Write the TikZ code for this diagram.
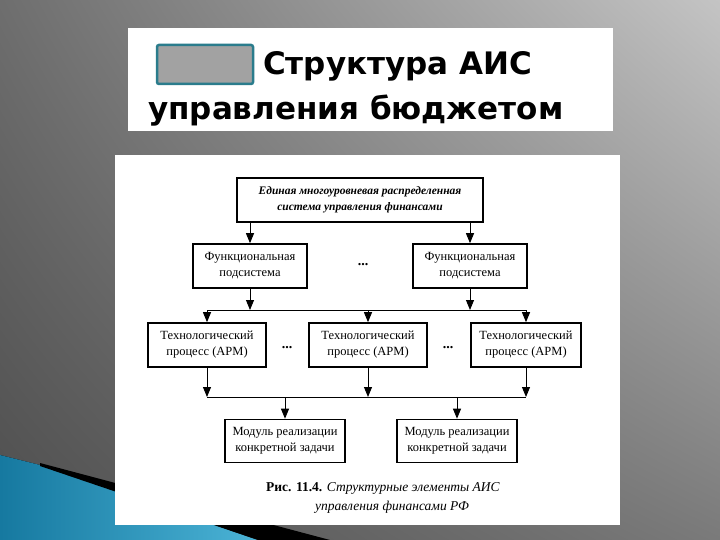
\documentclass[tikz,border=0pt]{standalone}
\usepackage{fontspec}
\setmainfont{Liberation Serif}
\newfontfamily\headfont{DejaVu Sans}
\usetikzlibrary{arrows.meta, positioning, calc, shadings}
\definecolor{slidetl}{HTML}{6E6E6E}
\definecolor{slidetr}{HTML}{C4C4C4}
\definecolor{slidebl}{HTML}{4E4E4E}
\definecolor{slidebr}{HTML}{7A7A7A}
\definecolor{swoopdark}{HTML}{1679A0}
\definecolor{swooplight}{HTML}{4BB3D6}
\definecolor{markteal}{HTML}{2A7C8C}
\definecolor{markgray}{HTML}{A2A2A2}

\begin{document}
\begin{tikzpicture}[
    x=1pt, y=-1pt,
    block/.style={draw, line width=1.6pt, fill=white, minimum width=118pt, minimum height=44pt, align=center, inner sep=2pt, font=\fontsize{12.5}{16}\selectfont},
    flow/.style={-{Triangle[length=10pt, width=8pt]}, line width=0.9pt},
    dots/.style={font=\bfseries\fontsize{14}{14}\selectfont},
]
    \useasboundingbox (0,0) rectangle (720,540);

    % Slide background
    \shade[upper left=slidetl, upper right=slidetr, lower left=slidebl, lower right=slidebr] (0,0) rectangle (720,540);
    \fill[left color=swoopdark, right color=swooplight] (0,455) -- (40,465) -- (258,540) -- (0,540) -- cycle;
    \fill[black] (40,463) -- (330,540) -- (258,540) -- (40,466) -- cycle;

    % Title
    \fill[white] (128,28) rectangle (613,131);
    \draw[markteal, fill=markgray, line width=2.5pt, rounded corners=2pt] (157,45) rectangle (253,84);
    \node[anchor=base west, inner sep=0pt, font=\headfont\bfseries\fontsize{31}{31}\selectfont] (title1) at (263,75) {Структура АИС};
    \node[anchor=base west, inner sep=0pt, font=\headfont\bfseries\fontsize{31}{31}\selectfont] (title2) at (148,120) {управления бюджетом};

    % Figure panel
    \fill[white] (115,155) rectangle (620,525);

    % System
    \node[block, minimum width=246pt, font=\bfseries\itshape\fontsize{11.5}{16}\selectfont] (sys) at (360,200) {Единая многоуровневая распределенная\\система управления финансами};

    % Subsystems
    \node[block, minimum width=114pt] (fl) at (250,266) {Функциональная\\подсистема};
    \node[block, minimum width=114pt] (fr) at (470,266) {Функциональная\\подсистема};
    \node[dots] (d1) at (363,265) {...};

    % Processes
    \node[block] (tl) at (207,345) {Технологический\\процесс (АРМ)};
    \node[block] (tm) at (368,345) {Технологический\\процесс (АРМ)};
    \node[block, minimum width=110pt] (tr) at (526,345) {Технологический\\процесс (АРМ)};
    \node[dots] (d2) at (287,348) {...};
    \node[dots] (d3) at (448,348) {...};

    % Modules
    \node[block, minimum width=120pt, minimum height=43pt] (ml) at (285,441) {Модуль реализации\\конкретной задачи};
    \node[block, minimum width=120pt, minimum height=43pt] (mr) at (457,441) {Модуль реализации\\конкретной задачи};

    % Buses
    \coordinate (b1w) at (207,310);
    \coordinate (b1e) at (526,310);
    \coordinate (b2w) at (207,397);
    \coordinate (b2e) at (526,397);

    % Flows
    \draw[flow] (fl.north |- sys.south) -- (fl.north);
    \draw[flow] (fr.north |- sys.south) -- (fr.north);
    \draw[flow] (fl.south) -- (fl.south |- b1w);
    \draw[flow] (fr.south) -- (fr.south |- b1w);
    \draw[line width=0.9pt] (b1w) -- (b1e);
    \draw[flow] (b1w) -- (tl.north);
    \draw[flow] (tm.north |- b1w) -- (tm.north);
    \draw[flow] (b1e) -- (tr.north);
    \draw[flow] (tl.south) -- (b2w);
    \draw[flow] (tm.south) -- (tm.south |- b2w);
    \draw[flow] (tr.south) -- (b2e);
    \draw[line width=0.9pt] (b2w) -- (b2e);
    \draw[flow] (ml.north |- b2w) -- (ml.north);
    \draw[flow] (mr.north |- b2w) -- (mr.north);

    % Caption
    \node[font=\fontsize{13.5}{16}\selectfont] (cap1) at (383,488) {\textbf{Рис. 11.4.} \textit{Структурные элементы АИС}};
    \node[font=\itshape\fontsize{13.5}{16}\selectfont] (cap2) at (392,507) {управления финансами РФ};

\end{tikzpicture}
\end{document}
